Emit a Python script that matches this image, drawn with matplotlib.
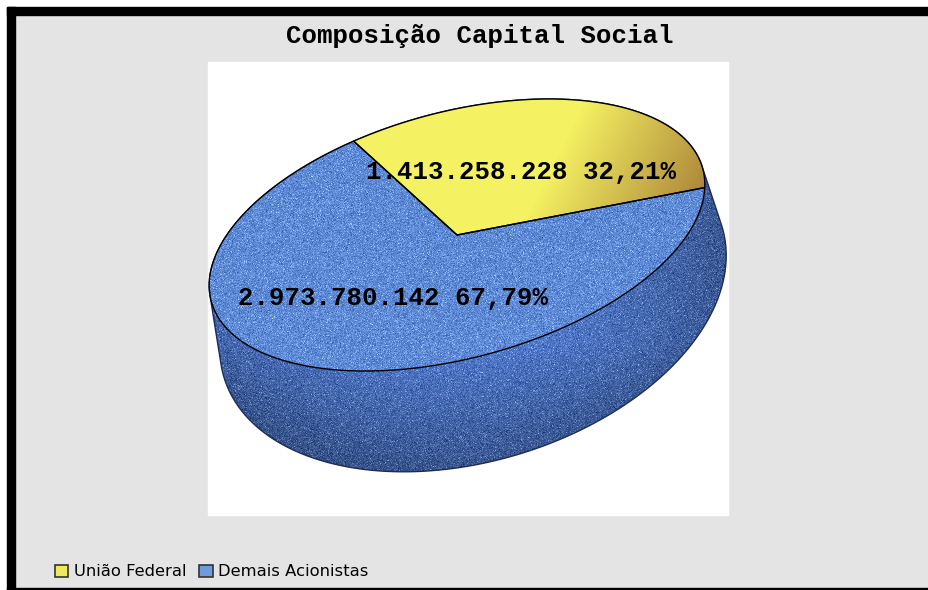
import numpy as np
import matplotlib.pyplot as plt
from matplotlib.patches import Polygon, Rectangle, Patch

# data
titulo = 'Composição Capital Social'
categorias = ['União Federal', 'Demais Acionistas']
acoes = [1413258228, 2973780142]

W, H = 929, 590
fig = plt.figure(figsize=(W / 100, H / 100), dpi=100, facecolor='#e4e4e4')
ax = fig.add_axes([0, 0, 1, 1])
ax.set_xlim(0, W); ax.set_ylim(H, 0)
ax.axis('off')

# frame
ax.add_patch(Rectangle((0, 0), W, 7, color='white', zorder=0))
ax.add_patch(Rectangle((0, 0), 7, H, color='white', zorder=0))
ax.add_patch(Rectangle((7, 7), W - 7, 8, color='black', zorder=0))
ax.add_patch(Rectangle((7, 7), 8, H - 7, color='black', zorder=0))
ax.add_patch(Rectangle((7, 588), W, 2, color='black', zorder=0))
ax.add_patch(Rectangle((208, 62), 520, 453, color='white', zorder=0))

ax.text(480, 36, titulo, ha='center', va='center', fontsize=18.5,
        family='Liberation Mono', weight='bold')

# pie geometry (top face and bottom rim, tilted ellipses in pixel space)
c0 = np.array([457., 235.]); u0 = np.array([247., -40.]); v0 = np.array([-20., 130.])
c1 = np.array([473., 302.]); u1 = np.array([253., -40.]); v1 = np.array([-10., 165.])

def ell(c, u, v, t):
    t = np.radians(np.atleast_1d(t))
    return c + np.outer(np.cos(t), u) + np.outer(np.sin(t), v)

def hull(pts):
    pts = sorted(map(tuple, pts))
    def half(p):
        out = []
        for q in p:
            while len(out) > 1 and ((out[-1][0] - out[-2][0]) * (q[1] - out[-2][1]) -
                                    (out[-1][1] - out[-2][1]) * (q[0] - out[-2][0])) <= 0:
                out.pop()
            out.append(q)
        return out
    lo = half(pts); hi = half(pts[::-1])
    return np.array(lo[:-1] + hi[:-1])

tt = np.linspace(0, 360, 721)
side = hull(np.vstack([ell(c0, u0, v0, tt), ell(c1, u1, v1, tt)]))

# textures
rng = np.random.default_rng(3)
X, Y = np.meshgrid(np.arange(W) + 0.5, np.arange(H) + 0.5)
noise = rng.normal(0, 1, (H, W))
spark = (rng.random((H, W)) > 0.93) * rng.uniform(30, 70, (H, W))

def img(rgb, n_sd):
    a = rgb + noise[..., None] * n_sd + spark[..., None] * 0.8
    return np.clip(a / 255, 0, 1)

# side
shade = 1 - 0.3 * ((X - 440) / 280) ** 2 - 0.35 * np.clip((Y - 340) / 140, 0, 1)
shade = np.clip(shade, 0.4, 1)
base_side = np.stack([82 * shade, 124 * shade, 208 * shade], -1)
side_patch = Polygon(side, closed=True, fc='none', ec='#1c2c55', lw=1.0, zorder=2)
ax.add_patch(side_patch)
im = ax.imshow(img(base_side, 14), extent=(0, W, H, 0), zorder=1, interpolation='nearest')
im.set_clip_path(side_patch)

# top face wedges
total = sum(acoes)
frac = [a / total for a in acoes]
start = -3.3
spans = [(start, start - 360 * frac[0]), (start, start + 360 * frac[1])]

top_blue = np.stack([np.full_like(X, 92), np.full_like(X, 136), np.full_like(X, 212)], -1)
p = ((X - 420) * 0.9 + (Y - 130) * 0.45) / 300
k = np.clip((p - 0.45) / 0.6, 0, 1)[..., None]
top_yel = np.array([244, 241, 98]) * (1 - k) + np.array([158, 112, 50]) * k
texturas = [np.clip(top_yel / 255, 0, 1), img(top_blue, 16)]

for (a, b), tex in zip(spans, texturas):
    arc = ell(c0, u0, v0, np.linspace(a, b, 300))
    wedge = Polygon(np.vstack([c0, arc]), closed=True, fc='none', ec='black', lw=1.0, zorder=4)
    ax.add_patch(wedge)
    imw = ax.imshow(tex, extent=(0, W, H, 0), zorder=3, interpolation='nearest')
    imw.set_clip_path(wedge)

# labels
for (a, b), v, f in zip(spans, acoes, frac):
    pos = ell(c0, 0.47 * u0, 0.47 * v0, (a + b) / 2)[0]
    txt = f'{v:,}'.replace(',', '.') + ' ' + f'{f * 100:.2f}%'.replace('.', ',')
    ax.text(pos[0], pos[1], txt, ha='center', va='center', fontsize=18.5,
            family='Liberation Mono', weight='bold', zorder=5)

ax.set_xlim(0, W); ax.set_ylim(H, 0)

# legend
handles = [Patch(fc='#eeea5a', ec='#333333', lw=1.2),
           Patch(fc='#6e9ae2', ec='#333333', lw=1.2)]
ax.legend(handles, categorias, loc='center left', bbox_to_anchor=(55, 572),
          bbox_transform=ax.transData, ncol=2, frameon=False, fontsize=11.8,
          handlelength=0.8, handleheight=0.8, handletextpad=0.35,
          columnspacing=0.8, borderpad=0, borderaxespad=0)

fig.savefig('out.png', dpi=100, facecolor=fig.get_facecolor())
